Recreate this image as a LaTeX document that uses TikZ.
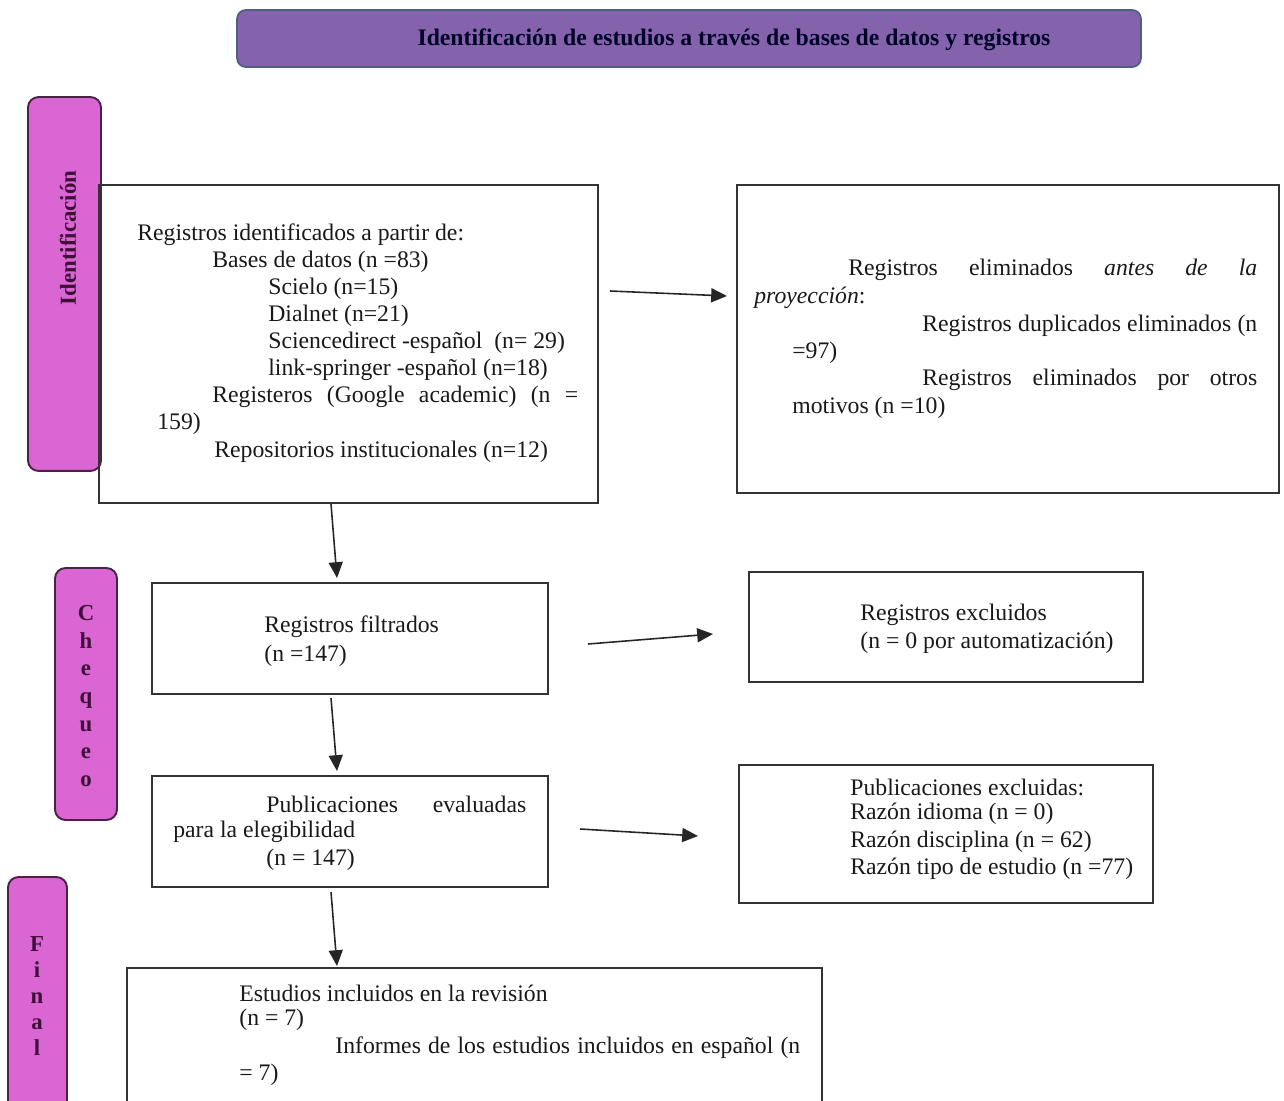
\documentclass[tikz,border=0pt]{standalone}
\usepackage{fontspec}
\setmainfont{Liberation Serif}
\usetikzlibrary{arrows.meta}
\definecolor{titlefill}{HTML}{8463AC}
\definecolor{titledraw}{HTML}{4E5F86}
\definecolor{sidefill}{HTML}{D966D2}
\definecolor{sidedraw}{HTML}{4A2247}
\definecolor{sidetext}{HTML}{3E1038}
\definecolor{boxdraw}{HTML}{333333}
\tikzset{
  px/.style={x=0.02cm,y=-0.02cm},
  flowbox/.style={draw=boxdraw, line width=1pt, rectangle, inner sep=0pt},
  titlebox/.style={draw=titledraw, fill=titlefill, line width=1pt, rounded corners=5pt, inner sep=0pt},
  sidebox/.style={draw=sidedraw, fill=sidefill, line width=1.1pt, rounded corners=6pt, inner sep=0pt},
  txt/.style={anchor=west, inner sep=0pt, text=black!90, font=\fontsize{13.5pt}{16pt}\selectfont},
  sidetxt/.style={inner sep=0pt, text=sidetext, font=\fontsize{13pt}{15pt}\selectfont\bfseries},
  arr/.style={draw=black!85, line width=0.9pt, -{Triangle[length=9pt,width=8pt]}}
}
\begin{document}
\begin{tikzpicture}[px]
\useasboundingbox (0,0) rectangle (1284,1101);
% title
\node[titlebox, minimum width=18.08cm, minimum height=1.14cm] (title) at (689,38.5) {};
\node[inner sep=0pt, text=black!85!blue, font=\fontsize{13.5pt}{16pt}\selectfont\bfseries] (titletxt) at (734,40) {Identificación de estudios a través de bases de datos y registros};
% side boxes
\node[sidebox, minimum width=1.46cm, minimum height=7.48cm] (sideid) at (64.5,284) {};
\node[sidetxt, rotate=90] (sideidtxt) at (68,238) {Identificación};
\node[sidebox, minimum width=1.24cm, minimum height=5.04cm] (sidech) at (86,694) {};
\node[sidetxt, align=center, font=\fontsize{13pt}{15.7pt}\selectfont\bfseries] (sidechtxt) at (86,696) {C\\h\\e\\q\\u\\e\\o};
\node[sidebox, minimum width=1.18cm, minimum height=5.06cm] (sidefi) at (37.5,1003.5) {};
\node[sidetxt, align=center, font=\fontsize{13pt}{14.8pt}\selectfont\bfseries] (sidefitxt) at (37,996) {F\\i\\n\\a\\l};
% boxes
\node[flowbox, minimum width=9.98cm, minimum height=6.36cm] (b1) at (348.5,344) {};
\node[flowbox, minimum width=10.84cm, minimum height=6.16cm] (r1) at (1008,339) {};
\node[flowbox, minimum width=7.92cm, minimum height=2.22cm] (b2) at (350,638.5) {};
\node[flowbox, minimum width=7.88cm, minimum height=2.2cm] (r2) at (946,627) {};
\node[flowbox, minimum width=7.92cm, minimum height=2.22cm] (b3) at (350,831.5) {};
\node[flowbox, minimum width=8.28cm, minimum height=2.76cm] (r3) at (946,834) {};
\node[flowbox, minimum width=13.9cm, minimum height=3.24cm] (b4) at (474.5,1049) {};
% box 1 text
\node[txt] (t11) at (137,235) {Registros identificados a partir de:};
\node[txt] (t12) at (212,262) {Bases de datos (n =83)};
\node[txt] (t13) at (268,289) {Scielo (n=15)};
\node[txt] (t14) at (268,316) {Dialnet (n=21)};
\node[txt] (t15) at (268,343) {Sciencedirect -español \ (n= 29)};
\node[txt] (t16) at (268,370) {link-springer -español (n=18)};
\node[txt] (t17) at (212,397) {\makebox[7.32cm][s]{Registeros (Google academic) (n =}};
\node[txt] (t18) at (157,424) {159)};
\node[txt] (t19) at (214,452) {Repositorios institucionales (n=12)};
% right 1 text
\node[txt] (t21) at (848,270) {\makebox[8.18cm][s]{Registros eliminados \textit{antes de la}}};
\node[txt] (t22) at (754,298) {\textit{proyección}:};
\node[txt] (t23) at (922,326) {\makebox[6.7cm][s]{Registros duplicados eliminados (n}};
\node[txt] (t24) at (792,353) {=97)};
\node[txt] (t25) at (922,380) {\makebox[6.7cm][s]{Registros eliminados por otros}};
\node[txt] (t26) at (792,408) {motivos (n =10)};
% filtrados
\node[txt] (t31) at (264,627) {Registros filtrados};
\node[txt] (t32) at (264,656) {(n =147)};
% excluidos
\node[txt] (t41) at (860,615) {Registros excluidos};
\node[txt] (t42) at (860,643) {(n = 0 por automatización)};
% evaluadas
\node[txt] (t51) at (266,804) {\makebox[5.2cm][s]{Publicaciones evaluadas}};
\node[txt] (t52) at (173,832) {para la elegibilidad};
\node[txt] (t53) at (266,860) {(n = 147)};
% excluidas
\node[txt] (t61) at (850,787) {Publicaciones excluidas:};
\node[txt] (t62) at (850,814) {Razón idioma (n = 0)};
\node[txt] (t63) at (850,842) {Razón disciplina (n = 62)};
\node[txt] (t64) at (850,869) {Razón tipo de estudio (n =77)};
% final
\node[txt] (t71) at (239,993) {Estudios incluidos en la revisión};
\node[txt] (t72) at (239,1020) {(n = 7)};
\node[txt] (t73) at (335,1048) {\makebox[9.3cm][s]{Informes de los estudios incluidos en español (n}};
\node[txt] (t74) at (239,1075) {= 7)};
% arrows
\coordinate (a1s) at (610,291); \coordinate (a1e) at (727,296);
\coordinate (a2s) at (331,504); \coordinate (a2e) at (337,578);
\coordinate (a3s) at (588,644); \coordinate (a3e) at (713,634);
\coordinate (a4s) at (331,698); \coordinate (a4e) at (337,771);
\coordinate (a5s) at (580,829); \coordinate (a5e) at (698,836);
\coordinate (a6s) at (331,892); \coordinate (a6e) at (337,966);
\draw[arr] (a1s) -- (a1e);
\draw[arr] (a2s) -- (a2e);
\draw[arr] (a3s) -- (a3e);
\draw[arr] (a4s) -- (a4e);
\draw[arr] (a5s) -- (a5e);
\draw[arr] (a6s) -- (a6e);
\end{tikzpicture}
\end{document}
